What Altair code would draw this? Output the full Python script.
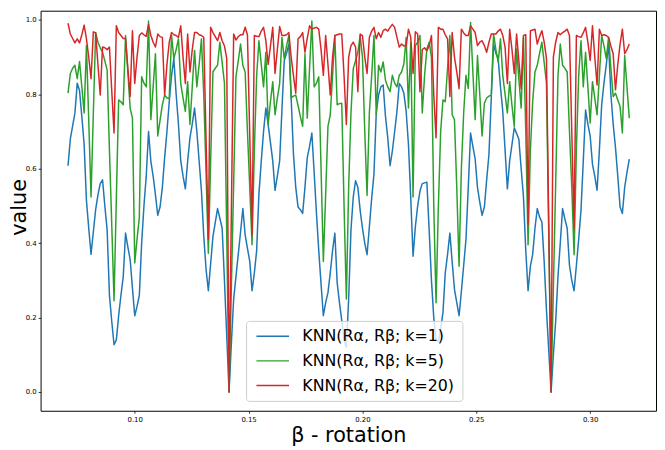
import altair as alt
import pandas as pd

# sample grid (beta rotation)
x_start = 0.070711
x_step = 0.0010102

blue = [
    0.608, 0.68, 0.715, 0.75, 0.83, 0.81, 0.74, 0.665, 0.515, 0.44,      # 0-9
    0.37, 0.43, 0.49, 0.53, 0.56, 0.57, 0.50, 0.435, 0.26, 0.19,        # 10-19
    0.127, 0.14, 0.205, 0.26, 0.31, 0.427, 0.39, 0.356, 0.28, 0.205,    # 20-29
    0.23, 0.26, 0.40, 0.50, 0.58, 0.70, 0.62, 0.58, 0.53, 0.475,        # 30-39
    0.497, 0.55, 0.63, 0.70, 0.78, 0.85, 0.896, 0.80, 0.72, 0.621,      # 40-49
    0.58, 0.546, 0.62, 0.683, 0.72, 0.763, 0.70, 0.62, 0.54, 0.42,      # 50-59
    0.33, 0.272, 0.345, 0.418, 0.455, 0.493, 0.467, 0.44, 0.30, 0.15,   # 60-69
    0.0, 0.13, 0.25, 0.31, 0.37, 0.43, 0.493, 0.422, 0.386, 0.351,      # 70-79
    0.272, 0.32, 0.38, 0.533, 0.62, 0.70, 0.763, 0.719, 0.67, 0.621,    # 80-89
    0.542, 0.58, 0.621, 0.76, 0.891, 0.91, 0.935, 0.79, 0.64, 0.55,     # 90-99
    0.497, 0.49, 0.48, 0.55, 0.63, 0.66, 0.696, 0.59, 0.48, 0.38,       # 100-109
    0.29, 0.205, 0.24, 0.267, 0.32, 0.38, 0.427, 0.294, 0.24, 0.192,    # 110-119
    0.14, 0.12, 0.25, 0.435, 0.524, 0.568, 0.55, 0.488, 0.44, 0.40,     # 120-129
    0.369, 0.444, 0.52, 0.586, 0.75, 0.798, 0.82, 0.825, 0.741, 0.683,  # 130-139
    0.608, 0.648, 0.70, 0.754, 0.829, 0.82, 0.803, 0.754, 0.665, 0.52,  # 140-149
    0.365, 0.444, 0.50, 0.54, 0.56, 0.562, 0.564, 0.435, 0.30, 0.20,    # 150-159
    0.14, 0.135, 0.17, 0.214, 0.32, 0.37, 0.427, 0.35, 0.276, 0.24,     # 160-169
    0.205, 0.27, 0.34, 0.41, 0.55, 0.696, 0.66, 0.626, 0.55, 0.51,      # 170-179
    0.475, 0.497, 0.57, 0.639, 0.79, 0.935, 0.91, 0.896, 0.82, 0.754,   # 180-189
    0.65, 0.546, 0.621, 0.665, 0.71, 0.695, 0.679, 0.60, 0.524, 0.38,   # 190-199
    0.272, 0.338, 0.37, 0.44, 0.493, 0.47, 0.457, 0.35, 0.22, 0.11,     # 200-209
    0.0, 0.10, 0.19, 0.31, 0.40, 0.493, 0.465, 0.44, 0.34, 0.30,        # 210-219
    0.272, 0.34, 0.41, 0.488, 0.62, 0.758, 0.72, 0.688, 0.612, 0.58,    # 220-229
    0.542, 0.65, 0.772, 0.83, 0.88, 0.935, 0.80, 0.72, 0.657, 0.58,     # 230-239
    0.497, 0.48, 0.55, 0.59, 0.626,                                     # 240-244
]

green = [
    0.803, 0.856, 0.87, 0.878, 0.842, 0.888, 0.82, 0.75, 0.931, 0.73,   # 0-9
    0.524, 0.75, 0.966, 0.94, 0.925, 0.913, 0.89, 0.865, 0.65, 0.45,    # 10-19
    0.245, 0.52, 0.785, 0.78, 0.772, 0.958, 0.86, 0.763, 0.736, 0.347,  # 20-29
    0.41, 0.47, 0.847, 0.83, 0.82, 0.997, 0.732, 0.82, 0.909, 0.688,    # 30-39
    0.73, 0.772, 0.798, 0.79, 0.789, 0.958, 0.896, 0.92, 0.949, 0.829,  # 40-49
    0.79, 0.754, 0.834, 0.719, 0.82, 0.918, 0.82, 0.88, 0.949, 0.80,    # 50-59
    0.59, 0.373, 0.62, 0.86, 0.87, 0.878, 0.94, 0.885, 0.83, 0.42,      # 60-69
    0.0, 0.28, 0.56, 0.847, 0.89, 0.935, 0.878, 0.86, 0.70, 0.55,       # 70-79
    0.396, 0.65, 0.85, 0.944, 0.88, 0.82, 0.913, 0.719, 0.78, 0.834,    # 80-89
    0.745, 0.79, 0.829, 0.953, 0.896, 0.93, 0.958, 0.79, 0.795, 0.798,  # 90-99
    0.77, 0.74, 0.714, 0.909, 0.736, 0.87, 0.997, 0.82, 0.83, 0.847,    # 100-109
    0.60, 0.351, 0.53, 0.714, 0.745, 0.85, 0.958, 0.772, 0.775, 0.776,  # 110-119
    0.50, 0.25, 0.55, 0.75, 0.869, 0.89, 0.913, 0.958, 0.90, 0.70,      # 120-129
    0.528, 0.75, 0.85, 0.958, 0.745, 0.878, 0.86, 0.887, 0.838, 0.82,   # 130-139
    0.807, 0.851, 0.83, 0.82, 0.851, 0.86, 0.882, 0.953, 0.763, 0.94,   # 140-149
    0.524, 0.931, 0.94, 0.958, 0.75, 0.85, 0.922, 0.94, 0.90, 0.50,     # 150-159
    0.24, 0.50, 0.70, 0.785, 0.78, 0.87, 0.958, 0.745, 0.732, 0.55,     # 160-169
    0.338, 0.60, 0.75, 0.851, 0.816, 0.993, 0.86, 0.732, 0.904, 0.80,   # 170-179
    0.688, 0.776, 0.79, 0.795, 0.798, 0.962, 0.92, 0.887, 0.949, 0.85,  # 180-189
    0.80, 0.75, 0.834, 0.77, 0.714, 0.922, 0.84, 0.763, 0.953, 0.70,    # 190-199
    0.396, 0.65, 0.78, 0.86, 0.878, 0.91, 0.94, 0.885, 0.83, 0.42,      # 200-209
    0.0, 0.28, 0.56, 0.85, 0.935, 0.878, 0.87, 0.86, 0.70, 0.55,        # 210-219
    0.369, 0.65, 0.85, 0.944, 0.82, 0.913, 0.82, 0.723, 0.834, 0.79,    # 220-229
    0.745, 0.85, 0.958, 0.93, 0.896, 0.953, 0.87, 0.794, 0.803, 0.785,  # 230-239
    0.767, 0.696, 0.904, 0.82, 0.736,                                   # 240-244
]

red = [
    0.991, 0.962, 0.95, 0.938, 0.949, 0.938, 0.96, 0.986, 0.949, 0.90,  # 0-9
    0.842, 0.968, 0.965, 0.88, 0.798, 0.927, 0.925, 0.92, 0.927, 0.81,  # 10-19
    0.696, 0.984, 0.966, 0.958, 0.95, 0.95, 0.87, 0.794, 0.971, 0.829,  # 20-29
    0.90, 0.958, 0.965, 0.96, 0.956, 0.988, 0.958, 0.94, 0.927, 0.962,  # 30-39
    0.955, 0.953, 0.798, 0.88, 0.94, 0.966, 0.96, 0.958, 0.953, 0.984,  # 40-49
    0.90, 0.829, 0.962, 0.86, 0.92, 0.966, 0.966, 0.96, 0.958, 0.953,   # 50-59
    0.68, 0.41, 0.98, 0.966, 0.955, 0.944, 0.966, 0.944, 0.93, 0.896,   # 60-69
    0.0, 0.48, 0.962, 0.946, 0.955, 0.96, 0.96, 0.98, 0.96, 0.69,       # 70-79
    0.422, 0.958, 0.956, 0.955, 0.97, 0.98, 0.944, 0.88, 0.93, 0.98,    # 80-89
    0.856, 0.92, 0.982, 0.958, 0.958, 0.96, 0.966, 0.90, 0.85, 0.803,   # 90-99
    0.949, 0.955, 0.966, 0.913, 0.95, 0.984, 0.975, 0.978, 0.98, 0.975, # 100-109
    0.92, 0.851, 0.958, 0.88, 0.798, 0.90, 0.958, 0.96, 0.962, 0.962,   # 110-119
    0.85, 0.719, 0.90, 0.931, 0.94, 0.927, 0.807, 0.962, 0.958, 0.90,   # 120-129
    0.856, 0.953, 0.97, 0.98, 0.949, 0.966, 0.953, 0.971, 0.975, 0.97,  # 130-139
    0.98, 0.988, 0.98, 0.953, 0.927, 0.935, 0.93, 0.93, 0.975, 0.953,   # 140-149
    0.856, 0.968, 0.962, 0.807, 0.92, 0.925, 0.917, 0.93, 0.958, 0.80,  # 150-159
    0.683, 0.98, 0.975, 0.975, 0.96, 0.949, 0.794, 0.966, 0.90, 0.86,   # 160-169
    0.815, 0.975, 0.965, 0.958, 0.958, 0.984, 0.975, 0.966, 0.931, 0.94,# 170-179
    0.944, 0.931, 0.913, 0.94, 0.962, 0.962, 0.962, 0.97, 0.975, 0.958, # 180-189
    0.927, 0.829, 0.975, 0.92, 0.856, 0.962, 0.89, 0.815, 0.958, 0.96,  # 190-199
    0.45, 0.971, 0.973, 0.975, 0.935, 0.955, 0.971, 0.94, 0.896, 0.45,  # 200-209
    0.0, 0.90, 0.94, 0.966, 0.96, 0.966, 0.97, 0.975, 0.958, 0.70,      # 210-219
    0.44, 0.958, 0.955, 0.953, 0.965, 0.98, 0.94, 0.891, 0.984, 0.90,   # 220-229
    0.825, 0.975, 0.958, 0.96, 0.958, 0.953, 0.93, 0.909, 0.812, 0.88,  # 230-239
    0.935, 0.975, 0.909, 0.92, 0.935,                                   # 240-244
]

labels = ["KNN(Rα, Rβ; k=1)", "KNN(Rα, Rβ; k=5)", "KNN(Rα, Rβ; k=20)"]
colors = ["#1f77b4", "#2ca02c", "#d62728"]
x_ticks = [0.10, 0.15, 0.20, 0.25, 0.30]
y_ticks = [0.0, 0.2, 0.4, 0.6, 0.8, 1.0]

rows = []
for lab, vals in zip(labels, [blue, green, red]):
    for i, v in enumerate(vals):
        rows.append({"x": x_start + i * x_step, "value": v, "series": lab})
df = pd.DataFrame(rows)

FONT = "DejaVu Sans"

base = alt.Chart(df).mark_line(strokeWidth=1.5, strokeJoin="round").encode(
    x=alt.X("x:Q",
            scale=alt.Scale(domain=[0.05866, 0.32894], nice=False, zero=False),
            axis=alt.Axis(values=x_ticks, format=".2f", title="β - rotation",
                          titleY=31, titleBaseline="alphabetic")),
    y=alt.Y("value:Q",
            scale=alt.Scale(domain=[-0.0504, 1.0247], nice=False, zero=False),
            axis=alt.Axis(values=y_ticks, format=".1f", title="value",
                          titleX=-15, titleY=198.6, titleBaseline="alphabetic",
                          titleAlign="center")),
    color=alt.Color("series:N",
                    scale=alt.Scale(domain=labels, range=colors),
                    legend=alt.Legend(title=None, orient="none", legendX=208, legendY=314,
                                      symbolType="M-3.3,0H3.3", symbolSize=100,
                                      symbolOffset=11.5,
                                      symbolStrokeWidth=1.5, labelFontSize=16,
                                      labelFont=FONT, labelColor="black",
                                      labelOffset=22, rowPadding=9, padding=7.5,
                                      fillColor="rgba(255,255,255,0.8)",
                                      strokeColor="#cccccc", cornerRadius=3)),
)

layers = [base.transform_filter(alt.datum.series == lab) for lab in labels]

chart = alt.layer(*layers).properties(
    width=623, height=405,
    autosize=alt.AutoSizeParams(type="none"),
    padding={"left": 33, "top": 0, "right": 1, "bottom": 38},
).configure_view(stroke="black", strokeWidth=1).configure_axis(
    grid=False, domain=False,
    labelFont=FONT, labelFontSize=7, labelColor="black", labelPadding=2,
    tickSize=2.5, tickWidth=0.8, tickColor="black",
    titleFont=FONT, titleFontSize=21, titleFontWeight="normal", titleColor="black",
)

chart.save("out.html", embed_options={"renderer": "svg", "actions": False})
